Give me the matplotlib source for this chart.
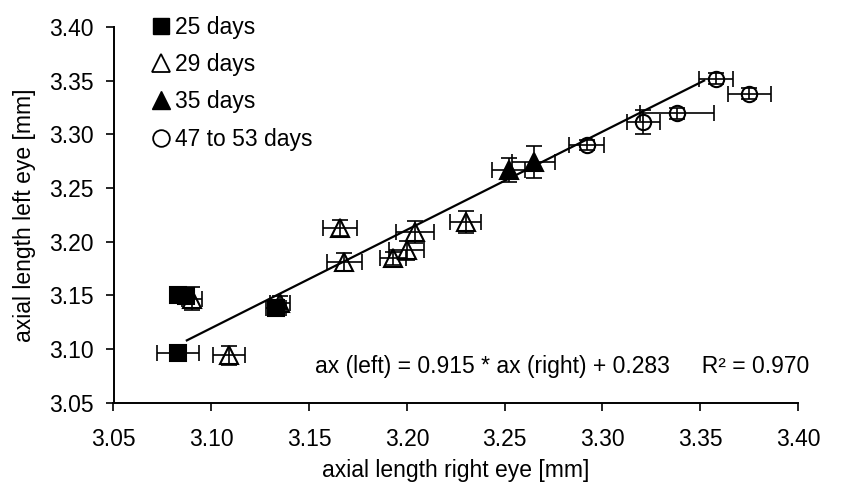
import matplotlib
matplotlib.use("Agg")
import matplotlib.pyplot as plt
from matplotlib.lines import Line2D

plt.rcParams['font.family'] = ['Liberation Sans', 'DejaVu Sans']

# 25 days
d25_x = [3.083, 3.083, 3.087, 3.133]
d25_y = [3.096, 3.150, 3.149, 3.138]
d25_xerr = [0.0107, 0.004, 0.004, 0.005]
d25_yerr = [0.003, 0.004, 0.004, 0.004]

# 29 days
d29_x = [3.109, 3.090, 3.135, 3.166, 3.168, 3.193, 3.200, 3.204, 3.230]
d29_y = [3.094, 3.147, 3.143, 3.2125, 3.181, 3.1845, 3.192, 3.209, 3.2185]
d29_xerr = [0.0082, 0.005, 0.005, 0.0087, 0.009, 0.0067, 0.009, 0.0098, 0.008]
d29_yerr = [0.009, 0.011, 0.006, 0.0075, 0.008, 0.006, 0.009, 0.010, 0.010]

# 35 days
d35_x = [3.252, 3.265]
d35_y = [3.2667, 3.2744]
d35_xerr = [0.0083, 0.011]
d35_yerr = [0.011, 0.015]

# 47 to 53 days
d47_x = [3.292, 3.321, 3.338, 3.358, 3.375]
d47_y = [3.290, 3.3116, 3.3195, 3.352, 3.338]
d47_xerr = [0.009, 0.0086, 0.019, 0.0088, 0.011]
d47_yerr = [0.005, 0.011, 0.005, 0.005, 0.005]

# linear fit: ax(left) = slope * ax(right) + intercept
fit_slope = 0.915
fit_intercept = 0.283
fit_r2 = 0.970
fit_x = [3.0875, 3.352]

x_ticks = [3.05, 3.10, 3.15, 3.20, 3.25, 3.30, 3.35, 3.40]
y_ticks = [3.05, 3.10, 3.15, 3.20, 3.25, 3.30, 3.35, 3.40]

W, H = 849, 495
fig = plt.figure(figsize=(W / 100, H / 100), dpi=100)
ax = fig.add_axes([113.5 / W, (H - 402.7) / H, (798 - 113.5) / W, (402.7 - 27) / H])

FS = 16.5
LW = 1.2

series = [
    (d25_x, d25_y, d25_xerr, d25_yerr, 's', 'black', 11, '25 days'),
    (d29_x, d29_y, d29_xerr, d29_yerr, '^', 'none', 13, '29 days'),
    (d35_x, d35_y, d35_xerr, d35_yerr, '^', 'black', 13, '35 days'),
    (d47_x, d47_y, d47_xerr, d47_yerr, 'o', 'none', 11, '47 to 53 days'),
]

for xs, ys, xe, ye, mk, fc, ms, lab in series:
    ax.errorbar(xs, ys, xerr=xe, yerr=ye, fmt='none', ecolor='black',
                elinewidth=LW, capsize=6, capthick=LW, zorder=2)
    ax.plot(xs, ys, linestyle='none', marker=mk, markersize=ms,
            markerfacecolor=fc, markeredgecolor='black',
            markeredgewidth=1.5, zorder=3)

fit_y = [fit_slope * v + fit_intercept for v in fit_x]
ax.plot(fit_x, fit_y, color='black', linewidth=1.6, zorder=4)

ax.set_xlim(3.05, 3.40)
ax.set_ylim(3.05, 3.40)
ax.set_xticks(x_ticks)
ax.set_yticks(y_ticks)
ax.set_xticklabels([f'{v:.2f}' for v in x_ticks])
ax.set_yticklabels([f'{v:.2f}' for v in y_ticks])
ax.tick_params(direction='out', length=6, width=1.2, labelsize=FS)
ax.tick_params(axis='x', pad=12)
ax.tick_params(axis='y', pad=8)

for side in ('top', 'right'):
    ax.spines[side].set_visible(False)
for side in ('left', 'bottom'):
    ax.spines[side].set_linewidth(1.4)

ax.set_xlabel('axial length right eye [mm]', fontsize=FS, labelpad=6)
ax.set_ylabel('axial length left eye [mm]', fontsize=FS, labelpad=10)

ax.text(3.153, 3.084,
        f'ax (left) = {fit_slope:.3f} * ax (right) + {fit_intercept:.3f}     R\u00b2 = {fit_r2:.3f}',
        fontsize=FS, ha='left', va='center')

handles = [
    Line2D([], [], linestyle='none', marker='s', markersize=12,
           markerfacecolor='black', markeredgecolor='black'),
    Line2D([], [], linestyle='none', marker='^', markersize=13,
           markerfacecolor='none', markeredgecolor='black', markeredgewidth=1.3),
    Line2D([], [], linestyle='none', marker='^', markersize=13,
           markerfacecolor='black', markeredgecolor='black'),
    Line2D([], [], linestyle='none', marker='o', markersize=12,
           markerfacecolor='none', markeredgecolor='black', markeredgewidth=1.3),
]
labels = [s[-1] for s in series]
fig.legend(handles, labels, loc='upper left',
           bbox_to_anchor=(149.5 / W, (H - 16) / H),
           frameon=False, fontsize=FS, handlelength=1.0, handletextpad=0.1,
           borderpad=0, borderaxespad=0, labelspacing=0.62)

fig.savefig('out.png', dpi=100)
